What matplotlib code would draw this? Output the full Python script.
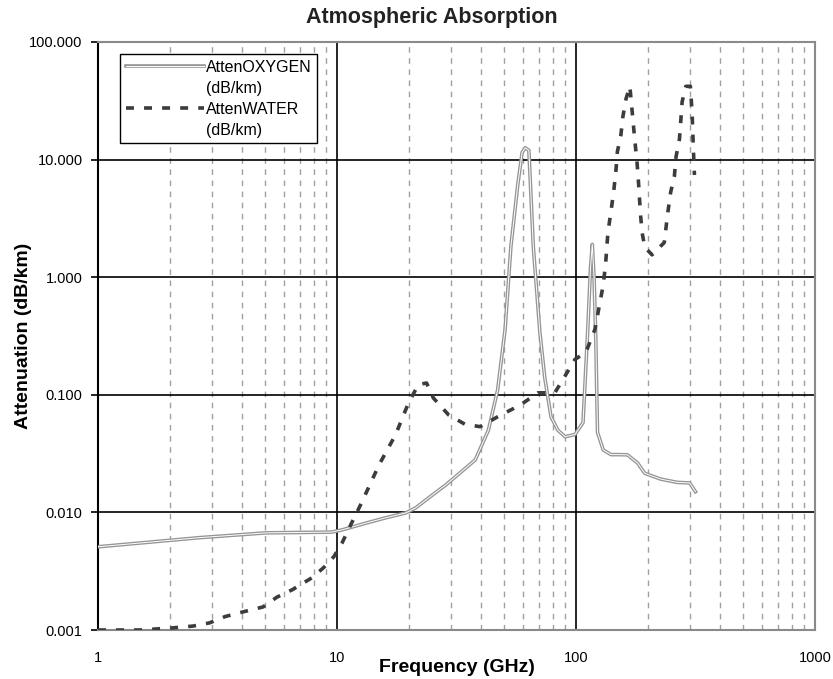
import matplotlib
matplotlib.use("Agg")
import matplotlib.pyplot as plt
import matplotlib.patheffects as pe
from matplotlib.lines import Line2D
from matplotlib.ticker import FixedLocator, FuncFormatter, NullFormatter, LogLocator
import numpy as np

plt.rcParams['font.family'] = ['Liberation Sans', 'DejaVu Sans']

# Oxygen attenuation (dB/km) vs frequency (GHz)
oxy_freq = [1, 2.66, 5.05, 9.5, 10.5, 13.2, 16, 19.4, 21.3, 25, 28.5, 33, 37.9, 43, 47, 50.5,
            53.4, 57, 59.5, 61.3, 63.5, 66.3, 70.6, 74, 78.6, 84, 90, 99, 107, 112, 115, 117,
            119, 121, 123, 130, 140, 149, 164, 181, 194, 226, 265, 299, 316]
oxy_val = [0.0051, 0.0061, 0.0067, 0.0068, 0.0071, 0.0081, 0.009, 0.0099, 0.0109, 0.014, 0.0171,
           0.022, 0.028, 0.050, 0.11, 0.36,
           1.82, 6.0, 11.5, 12.6, 12.0, 1.8, 0.34, 0.14, 0.065, 0.05, 0.044, 0.046, 0.058, 0.36, 1.2, 1.9,
           1.0, 0.3, 0.048, 0.034, 0.031, 0.031, 0.0309, 0.0263, 0.0215, 0.0192, 0.018, 0.0178, 0.015]

# Water vapour attenuation (dB/km) vs frequency (GHz)
wat_freq = [1, 1.5, 2.03, 2.5, 2.93, 3.4, 3.9, 4.9, 5.6, 6.5, 7.9, 8.8, 9.7, 10.5, 11.4, 12.6,
            15, 17.6, 19.9, 21.9, 23.7, 25.3, 29.3, 34.4, 39.7, 47, 58.5, 69.4, 81.5, 88, 99,
            110, 120, 130, 133, 136, 140, 144, 147, 149, 154, 157, 162, 168, 172, 176, 180,
            183, 186, 189, 194, 208, 234, 242, 249, 258, 262, 271, 278, 288, 301, 306, 310, 313]
wat_val = [0.001, 0.001, 0.00104, 0.00108, 0.00115, 0.0013, 0.0014, 0.00157, 0.0019, 0.0022, 0.0028,
           0.0034, 0.0042, 0.0055, 0.0078, 0.0118,
           0.0254, 0.046, 0.085, 0.122, 0.126, 0.094, 0.0675, 0.056, 0.0536, 0.065, 0.082, 0.104,
           0.104, 0.134, 0.2, 0.23, 0.36, 0.86, 1.3, 2.4, 3.6, 5.5, 8.2, 11.7, 16, 23, 33, 42,
           25, 15, 9.5, 6.0, 3.5, 2.4, 1.8, 1.55, 1.97, 3.5, 5.3, 7.2, 10.5, 15, 31, 42, 42, 25,
           12, 7.4]

x_ticks = [1, 10, 100, 1000]
y_ticks = [0.001, 0.01, 0.1, 1, 10, 100]

fig = plt.figure(figsize=(8.33, 6.79), dpi=100)
ax = fig.add_axes([98/833, 1-630/679, 717/833, 588/679])

ax.set_xscale('log')
ax.set_yscale('log')
ax.set_xlim(1, 1000)
ax.set_ylim(0.001, 100)

# grid
ax.xaxis.set_minor_locator(LogLocator(base=10, subs=np.arange(2, 10)))
ax.xaxis.set_minor_formatter(NullFormatter())
ax.yaxis.set_minor_locator(FixedLocator([]))
ax.xaxis.set_major_locator(FixedLocator(x_ticks))
ax.yaxis.set_major_locator(FixedLocator(y_ticks))
ax.grid(which='minor', axis='x', color='#a0a0a0', linestyle=(0, (4, 4)), linewidth=1.0)
ax.grid(which='major', axis='both', color='black', linestyle='-', linewidth=1.2)
ax.set_axisbelow(True)

oxy_pe = [pe.Stroke(linewidth=2.6, foreground='#959595'), pe.Normal()]
ln_o, = ax.plot(oxy_freq, oxy_val, color='white', linewidth=0.7,
                path_effects=oxy_pe, zorder=3)
ln_w, = ax.plot(wat_freq, wat_val, color='#3c3c3c', linewidth=2.6,
                linestyle=(0, (2.2, 2.8)), zorder=4)

# ticks and labels
ax.xaxis.set_major_formatter(FuncFormatter(lambda v, p: f"{int(round(v))}"))
ax.yaxis.set_major_formatter(FuncFormatter(lambda v, p: f"{v:.3f}"))
ax.tick_params(axis='x', which='both', length=0, pad=15, labelsize=10.5)
ax.tick_params(axis='y', which='major', length=5, width=1.2, direction='out',
               labelsize=10.5, pad=6, color='black')

for s in ['top', 'right', 'bottom']:
    ax.spines[s].set_color('#8a8a8a')
    ax.spines[s].set_linewidth(1.5)
ax.spines['left'].set_color('black')
ax.spines['left'].set_linewidth(1.5)

fig.text(432/833, 1-17/679, 'Atmospheric Absorption', fontsize=15.5, fontweight='bold',
         ha='center', va='center', color='#222222')
ax.set_xlabel('Frequency (GHz)', fontsize=14, fontweight='bold', va='center')
ax.xaxis.set_label_coords(0.5, (630-668)/588)
ax.set_ylabel('Attenuation (dB/km)', fontsize=14, fontweight='bold', va='center')
ax.yaxis.set_label_coords((24-98)/717, 0.5)

blank = Line2D([], [], color='none')
h_o = Line2D([], [], color='white', linewidth=0.7, path_effects=oxy_pe)
h_w = Line2D([], [], color='#3c3c3c', linewidth=2.6, linestyle=(0, (2.2, 2.8)))
leg = ax.legend(handles=[h_o, blank, h_w, blank],
                labels=['AttenOXYGEN', '(dB/km)', 'AttenWATER', '(dB/km)'],
                loc='upper left', bbox_to_anchor=(22/717, 576/588),
                borderaxespad=0, frameon=True, fancybox=False, edgecolor='black',
                fontsize=11.5, handlelength=4.9, handletextpad=0.12, borderpad=0.35,
                labelspacing=0.38, framealpha=1)
leg.get_frame().set_linewidth(1.0)

fig.savefig('out.png', dpi=100)
